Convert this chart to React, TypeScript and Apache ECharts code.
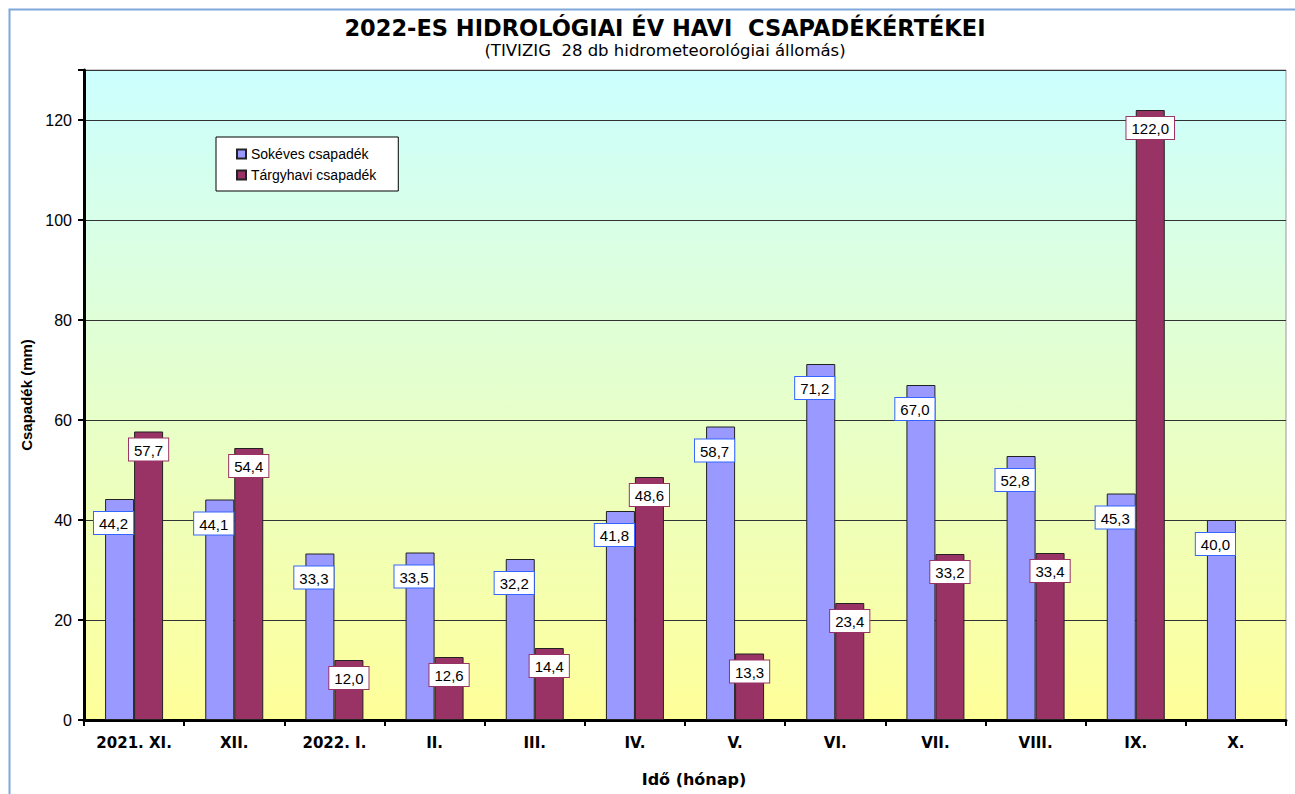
import React, { useEffect, useRef } from "react";
import * as echarts from "echarts";

const categories = ["2021. XI.", "XII.", "2022. I.", "II.", "III.", "IV.", "V.", "VI.", "VII.", "VIII.", "IX.", "X."];
const longTermValues = [44.2, 44.1, 33.3, 33.5, 32.2, 41.8, 58.7, 71.2, 67.0, 52.8, 45.3, 40.0];
const monthlyValues: (number | null)[] = [57.7, 54.4, 12.0, 12.6, 14.4, 48.6, 13.3, 23.4, 33.2, 33.4, 122.0, null];
const yTicks = [0, 20, 40, 60, 80, 100, 120];

const FONT = "'Liberation Sans', Arial, sans-serif";
const WIDE = "'DejaVu Sans', Verdana, sans-serif";
const fmt = (p: any) => (p.value == null ? "" : Number(p.value).toFixed(1).replace(".", ","));

export default function App() {
  const ref = useRef<HTMLDivElement>(null);
  useEffect(() => {
    if (!ref.current) return;
    const chart = echarts.init(ref.current, null, { renderer: "svg" });
    chart.setOption({
      animation: false,
      backgroundColor: "#ffffff",
      textStyle: { fontFamily: FONT },
      title: [
        {
          text: "2022-ES HIDROLÓGIAI ÉV HAVI  CSAPADÉKÉRTÉKEI",
          left: 665,
          textAlign: "center",
          top: 16,
          padding: 0,
          textStyle: { fontFamily: WIDE, fontSize: 22.5, fontWeight: "bold", color: "#000", lineHeight: 24 },
        },
        {
          text: "(TIVIZIG  28 db hidrometeorológiai állomás)",
          left: 665,
          textAlign: "center",
          top: 41,
          padding: 0,
          textStyle: { fontFamily: WIDE, fontSize: 16.5, fontWeight: "normal", color: "#000", lineHeight: 18 },
        },
      ],
      graphic: [
        {
          type: "rect",
          shape: { x: 9.5, y: 9.5, width: 1300, height: 800 },
          style: { fill: "none", stroke: "#7FA7DA", lineWidth: 2 },
          silent: true,
          z: -1,
        },
      ],
      legend: {
        orient: "vertical",
        left: 216,
        top: 137,
        backgroundColor: "#fff",
        borderColor: "#000",
        borderWidth: 1,
        borderRadius: 0,
        padding: [10, 22, 9, 20],
        itemWidth: 9,
        itemHeight: 9,
        itemGap: 7,
        icon: "rect",
        textStyle: { fontFamily: FONT, fontSize: 14, color: "#000" },
        data: ["Sokéves csapadék", "Tárgyhavi csapadék"],
      },
      grid: {
        left: 84,
        right: 9,
        top: 70,
        bottom: 74,
        show: true,
        borderColor: "#999",
        borderWidth: 1,
        backgroundColor: new echarts.graphic.LinearGradient(0, 0, 0, 1, [
          { offset: 0, color: "#CCFFFF" },
          { offset: 1, color: "#FFFF99" },
        ]),
      },
      xAxis: {
        type: "category",
        data: categories,
        name: "Idő (hónap)",
        nameLocation: "middle",
        nameGap: 51,
        nameTextStyle: { fontFamily: WIDE, fontSize: 16, fontWeight: "bold", color: "#000", padding: [0, 0, 0, 18] },
        axisLine: { lineStyle: { color: "#000", width: 3 } },
        axisTick: { show: true, length: 6, lineStyle: { color: "#000", width: 2 } },
        axisLabel: { fontFamily: WIDE, fontSize: 15, fontWeight: "bold", color: "#000", margin: 15 },
      },
      yAxis: {
        type: "value",
        min: 0,
        max: 130,
        interval: 20,
        name: "Csapadék (mm)",
        nameLocation: "middle",
        nameGap: 45,
        nameRotate: 90,
        nameTextStyle: { fontFamily: FONT, fontSize: 15, fontWeight: "bold", color: "#000" },
        axisLine: { show: true, lineStyle: { color: "#000", width: 3 } },
        axisTick: { show: true, length: 6, lineStyle: { color: "#000", width: 2 } },
        axisLabel: {
          fontFamily: FONT,
          fontSize: 16,
          color: "#000",
          margin: 12,
          formatter: (v: number) => (yTicks.includes(v) ? String(v) : ""),
        },
        splitLine: { show: true, lineStyle: { color: "#333", width: 1 } },
      },
      series: [
        {
          name: "Sokéves csapadék",
          type: "bar",
          data: longTermValues,
          barWidth: 29,
          barGap: "0%",
          itemStyle: { color: "#9999FF", borderColor: "#222", borderWidth: 1 },
          label: {
            show: true,
            position: "insideTop",
            distance: 13,
            offset: [-6, 0],
            formatter: fmt,
            fontFamily: FONT,
            fontSize: 15,
            color: "#000",
            backgroundColor: "#fff",
            borderColor: "#3366FF",
            borderWidth: 1,
            padding: [4, 5, 3, 5],
          },
        },
        {
          name: "Tárgyhavi csapadék",
          type: "bar",
          data: monthlyValues,
          barWidth: 29,
          barGap: "0%",
          itemStyle: { color: "#993366", borderColor: "#222", borderWidth: 1 },
          label: {
            show: true,
            position: "insideTop",
            distance: 7,
            formatter: fmt,
            fontFamily: FONT,
            fontSize: 15,
            color: "#000",
            backgroundColor: "#fff",
            borderColor: "#993366",
            borderWidth: 1,
            padding: [4, 5, 3, 5],
          },
        },
      ],
    });
    return () => chart.dispose();
  }, []);
  return <div ref={ref} style={{ position: "fixed", left: 0, top: 0, width: 1295, height: 794 }} />;
}
